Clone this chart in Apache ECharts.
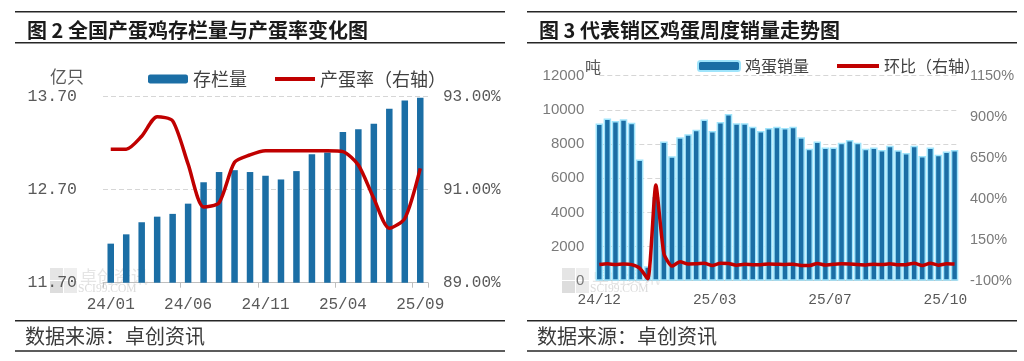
<!DOCTYPE html>
<html><head><meta charset="utf-8">
<script src="https://cdn.jsdelivr.net/npm/echarts@6/dist/echarts.min.js"></script>
<style>html,body{margin:0;padding:0;background:#fff}#c{width:1024px;height:361px}</style>
</head><body><div id="c"></div>
<script>
// ---- Chart 2 data: layer-hen stock (亿只) and laying rate (%) ----
const months = ['24/01','24/02','24/03','24/04','24/05','24/06','24/07','24/08','24/09','24/10','24/11','24/12',
                '25/01','25/02','25/03','25/04','25/05','25/06','25/07','25/08','25/09'];
const stock = [12.12, 12.22, 12.35, 12.41, 12.44, 12.55, 12.78, 12.89, 12.91, 12.89, 12.85,
               12.81, 12.90, 13.08, 13.10, 13.32, 13.35, 13.41, 13.57, 13.66, 13.69];
const layingRate = [91.87, 91.87, 92.15, 92.57, 92.48, 91.55, 90.63, 90.72, 91.59, 91.75, 91.84,
                    91.84, 91.84, 91.84, 91.84, 91.82, 91.53, 90.81, 90.17, 90.38, 91.46];

// ---- Chart 3 data: weekly egg sales (吨) and week-on-week change (%) ----
const sales = [9200, 9500, 9350, 9450, 9250, 7100, 840, 4900, 8150, 7280, 8400, 8580, 8840, 9440, 8760,
               9290, 9760, 9210, 9210, 9010, 8760, 8940, 9010, 8940, 9010, 8390, 7730, 8150, 7800, 7800,
               8080, 8230, 8080, 7730, 7800, 7650, 7900, 7630, 7470, 7900, 7300, 7800, 7380, 7570, 7650];
const salesWoW = [-1.0, 3.3, -1.6, 1.1, -2.1, -23.2, -88.2, 483, 66, -10.7, 15.4, 2.1, 3.0, 6.8, -7.2,
                  6.1, 5.1, -5.6, 0, -2.2, -2.8, 2.1, 0.8, -0.8, 0.8, -6.9, -7.9, 5.4, -4.3, 0,
                  3.6, 1.9, -1.8, -4.3, 0.9, -1.9, 3.3, -3.4, -2.1, 5.8, -7.6, 6.8, -5.4, 2.6, 1.1];
const salesTickLabels = ['24/12', '25/03', '25/07', '25/10'];

const CJK = '"Noto Sans CJK SC", sans-serif';
const MONO = '"Liberation Mono", monospace';
const SANS = '"Liberation Sans", Arial, sans-serif';
const BLUE = '#1b6ea5';
const RED = '#c00000';
const GRID_DASH = {type: [5, 3], color: '#d6d6d6', width: 1};

function txt(x, y, text, size, color, weight, family, align) {
  return {type: 'text', x: x, y: y, z: 50, silent: true,
    style: {text: text, fontSize: size, fontFamily: family || CJK, fontWeight: weight || 'normal',
      fill: color, textAlign: align || 'left', textVerticalAlign: 'middle', align: align || 'left', verticalAlign: 'middle'}};
}
function hline(x1, x2, y) {
  return {type: 'line', z: 50, silent: true, shape: {x1: x1, y1: y, x2: x2, y2: y}, style: {stroke: '#262626', lineWidth: 1.5}};
}
function watermark(x, y) {
  const g = [];
  const cols = ['#d4d4d4', '#e4e4e4', '#c6c6c6', '#dcdcdc'];
  for (let r = 0; r < 2; r++) for (let c = 0; c < 2; c++) {
    g.push({type: 'rect', z: 0, silent: true, shape: {x: x + c * 14, y: y + r * 13, width: 13, height: 12},
      style: {fill: cols[r * 2 + c], opacity: 0.6}});
  }
  g.push({type: 'text', z: 0, silent: true, x: x + 30, y: y + 9,
    style: {text: '卓创资讯', fontSize: 17, fontFamily: CJK, fill: '#cccccc', opacity: 0.5, textVerticalAlign: 'middle', verticalAlign: 'middle'}});
  g.push({type: 'text', z: 0, silent: true, x: x + 28, y: y + 21,
    style: {text: 'SCI99.COM', fontSize: 11.5, fontFamily: '"Liberation Serif", serif', fill: '#cccccc', opacity: 0.7, textVerticalAlign: 'middle', verticalAlign: 'middle'}});
  return g;
}

const chart = echarts.init(document.getElementById('c'), null, {renderer: 'canvas'});
const option = {
  animation: false,
  backgroundColor: '#ffffff',
  grid: [
    {left: 103, top: 96.7, width: 325, height: 186},
    {left: 599.3, top: 75.7, width: 357.7, height: 205}
  ],
  legend: [
    {left: 148, top: 69, itemWidth: 40, itemHeight: 9, itemGap: 26, padding: 0,
      data: [{name: '存栏量'}, {name: '产蛋率（右轴）', itemStyle: {opacity: 0}, lineStyle: {width: 4}}],
      textStyle: {fontFamily: CJK, fontSize: 18, color: '#404040', lineHeight: 20}},
    {left: 697, top: 56, itemWidth: 42, itemHeight: 10, itemGap: 26, padding: 0,
      data: [{name: '鸡蛋销量'}, {name: '环比（右轴）', itemStyle: {opacity: 0}, lineStyle: {width: 4}}],
      textStyle: {fontFamily: CJK, fontSize: 16, color: '#404040', lineHeight: 20}}
  ],
  xAxis: [
    {type: 'category', gridIndex: 0, data: months,
      axisLine: {lineStyle: {color: '#bfbfbf'}},
      axisTick: {show: true, interval: 4, length: 5, lineStyle: {color: '#bfbfbf'}},
      axisLabel: {interval: 4, margin: 14, fontFamily: MONO, fontSize: 16, color: '#595959'}},
    {type: 'value', gridIndex: 1, min: 0, max: 44.3, interval: 100 / 7,
      splitLine: {show: false},
      axisLine: {show: true, onZero: false, lineStyle: {color: '#bfbfbf'}},
      axisTick: {show: false},
      axisLabel: {margin: 12, fontFamily: MONO, fontSize: 14.5, color: '#595959',
        formatter: function (v, i) { return salesTickLabels[i] || ''; }}}
  ],
  yAxis: [
    {type: 'value', gridIndex: 0, min: 11.7, max: 13.7, interval: 1,
      axisLine: {show: false}, axisTick: {show: false},
      splitLine: {lineStyle: GRID_DASH},
      axisLabel: {margin: 26, fontFamily: MONO, fontSize: 16.5, color: '#595959',
        formatter: function (v) { return v.toFixed(2); }}},
    {type: 'value', gridIndex: 0, position: 'right', min: 89, max: 93, interval: 2,
      axisLine: {show: false}, axisTick: {show: false}, splitLine: {show: false},
      axisLabel: {margin: 15, fontFamily: MONO, fontSize: 16, color: '#595959',
        formatter: function (v) { return v.toFixed(2) + '%'; }}},
    {type: 'value', gridIndex: 1, min: 0, max: 12000, interval: 2000,
      axisLine: {show: false}, axisTick: {show: false},
      splitLine: {lineStyle: GRID_DASH},
      axisLabel: {margin: 15, fontFamily: SANS, fontSize: 15, color: '#7a7a7a',
        formatter: function (v) { return String(v); }}},
    {type: 'value', gridIndex: 1, position: 'right', min: -100, max: 1150, interval: 250,
      axisLine: {show: false}, axisTick: {show: false}, splitLine: {show: false},
      axisLabel: {margin: 13, fontFamily: SANS, fontSize: 14.5, color: '#7a7a7a',
        formatter: function (v) { return v + '%'; }}}
  ],
  series: [
    {name: '存栏量', type: 'bar', xAxisIndex: 0, yAxisIndex: 0, data: stock,
      barWidth: 6.5, itemStyle: {color: BLUE}},
    {name: '产蛋率（右轴）', type: 'line', xAxisIndex: 0, yAxisIndex: 1, data: layingRate,
      symbol: 'none', showSymbol: false, smooth: 0.25,
      lineStyle: {color: RED, width: 3.5}, itemStyle: {color: RED}},
    {name: '鸡蛋销量', type: 'bar', xAxisIndex: 1, yAxisIndex: 2, clip: false,
      data: sales.map(function (v, i) { return [i, v]; }),
      barWidth: 7.5, itemStyle: {color: BLUE, borderColor: '#9fe4fb', borderWidth: 1.5}},
    {name: '环比（右轴）', type: 'line', xAxisIndex: 1, yAxisIndex: 3, clip: false,
      data: salesWoW.map(function (v, i) { return [i, v]; }),
      symbol: 'none', showSymbol: false, smooth: 0.2,
      lineStyle: {color: RED, width: 3.5}, itemStyle: {color: RED}}
  ],
  graphic: [
    hline(15, 505, 11.7), hline(15, 505, 42.7), hline(15, 505, 320.7), hline(15, 505, 351),
    hline(527, 1017, 11.7), hline(527, 1017, 42.7), hline(527, 1017, 320.7), hline(527, 1017, 351),
    txt(27, 30.8, '图 2 全国产蛋鸡存栏量与产蛋率变化图', 20, '#1a1a1a', 'bold'),
    txt(539, 30.8, '图 3 代表销区鸡蛋周度销量走势图', 20, '#1a1a1a', 'bold'),
    txt(25, 336.5, '数据来源：卓创资讯', 20, '#3a3a3a'),
    txt(537, 336.5, '数据来源：卓创资讯', 20, '#3a3a3a'),
    txt(50, 77, '亿只', 17, '#595959'),
    txt(585, 67, '吨', 16, '#595959')
  ].concat(watermark(50, 268), watermark(562, 268))
};
chart.setOption(option);
</script>
</body></html>
